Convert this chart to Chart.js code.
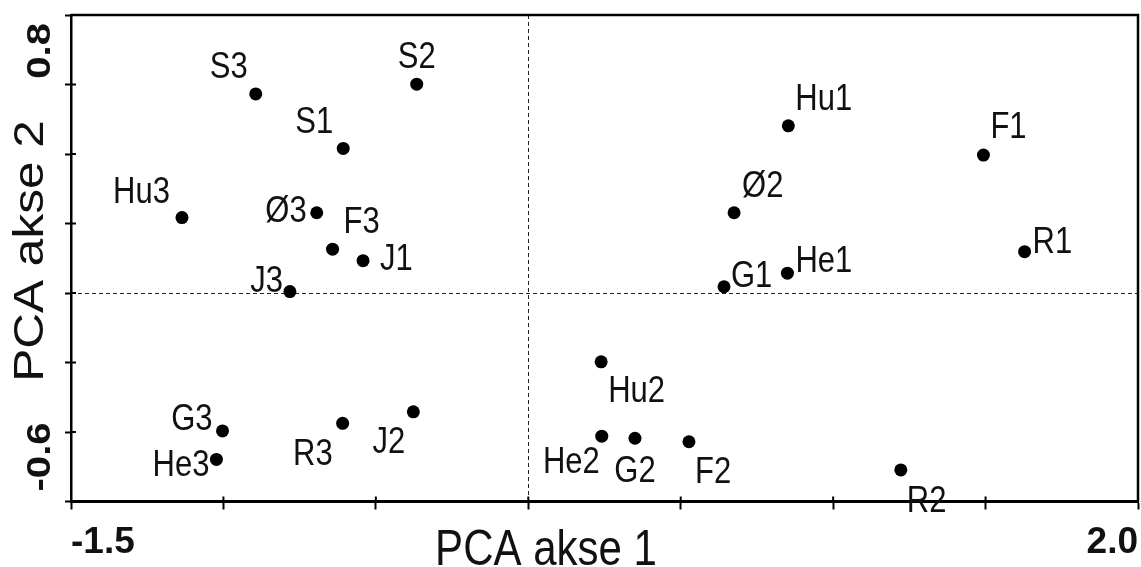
<!DOCTYPE html>
<html>
<head>
<meta charset="utf-8">
<script src="https://cdn.jsdelivr.net/npm/chart.js@4.4.0/dist/chart.umd.min.js"></script>
<style>
  html, body { margin: 0; padding: 0; background: #fff; }
  #wrap { width: 1141px; height: 567px; }
</style>
</head>
<body>
<div id="wrap"><canvas id="pca" width="1141" height="567"></canvas></div>
<script>
// sample scores
const pointNames = ['S1', 'S2', 'S3', 'Hu1', 'Hu2', 'Hu3', 'F1', 'F2', 'F3', 'R1', 'R2', 'R3',
                    'J1', 'J2', 'J3', 'G1', 'G2', 'G3', 'He1', 'He2', 'He3', 'Ø2', 'Ø3'];
const axis1 = [-0.607, -0.366, -0.894, 0.853, 0.239, -1.136, 1.493, 0.527, -0.642, 1.628, 1.222, -0.609,
               -0.542, -0.377, -0.782, 0.642, 0.350, -1.003, 0.850, 0.241, -1.023, 0.675, -0.694];
const axis2 = [0.416, 0.601, 0.573, 0.481, -0.198, 0.217, 0.397, -0.428, 0.126, 0.119, -0.509, -0.375,
               0.093, -0.342, 0.004, 0.018, -0.418, -0.397, 0.057, -0.412, -0.479, 0.231, 0.231];
const xRange = [-1.5, 2.0];
const yRange = [-0.6, 0.8];
const xTitle = 'PCA akse 1';
const yTitle = 'PCA akse 2';

// where each name sits next to its dot: [textAlign, dx, baseline dy]
const labelPlacement = {
  S1: ['right', -10, -15], S2: ['center', 0, -16], S3: ['right', -8, -16],
  Hu1: ['left', 7, -16], Hu2: ['left', 7, 40], Hu3: ['right', -12, -15],
  F1: ['left', 7, -17], F2: ['left', 6, 41], F3: ['left', 11, -16],
  R1: ['left', 8, 1], R2: ['left', 6, 42], R3: ['right', -10, 42],
  J1: ['left', 17, 9], J2: ['right', -8, 41], J3: ['right', -7, 0],
  G1: ['left', 7, 0], G2: ['center', 0, 44], G3: ['right', -10, -1],
  He1: ['left', 8, -1], He2: ['right', -2, 37], He3: ['right', -7, 17],
  'Ø2': ['left', 8, -16], 'Ø3': ['right', -10, 9]
};

const FONT = "'Liberation Sans', Arial, sans-serif";
const STRETCH = 1.18; // the original figure is a bit taller than wide

function drawText(ctx, text, x, y, font, align, rotated) {
  ctx.save();
  ctx.translate(x, y);
  if (rotated) {
    ctx.rotate(-Math.PI / 2);
    ctx.scale(STRETCH, 1);
  } else {
    ctx.scale(1, STRETCH);
  }
  ctx.font = font;
  ctx.textAlign = align;
  ctx.textBaseline = 'alphabetic';
  ctx.fillStyle = '#111';
  ctx.fillText(text, 0, 0);
  ctx.restore();
}

const pcaDecor = {
  id: 'pcaDecor',
  beforeDatasetsDraw(chart) {
    const { ctx, chartArea: a, scales: { x, y } } = chart;
    const x0 = Math.round(x.getPixelForValue(0)) + 0.5;
    const y0 = Math.round(y.getPixelForValue(0)) + 0.5;
    ctx.save();
    ctx.strokeStyle = '#222';
    ctx.lineWidth = 1;
    ctx.setLineDash([4, 3]);
    ctx.beginPath();
    ctx.moveTo(x0, a.top);
    ctx.lineTo(x0, a.bottom);
    ctx.moveTo(a.left, y0);
    ctx.lineTo(a.right, y0);
    ctx.stroke();
    ctx.restore();
  },
  afterDatasetsDraw(chart) {
    const { ctx } = chart;
    const meta = chart.getDatasetMeta(0);
    meta.data.forEach((pt, i) => {
      const [align, dx, dy] = labelPlacement[pointNames[i]];
      drawText(ctx, pointNames[i], pt.x + dx, pt.y + dy, '31px ' + FONT, align, false);
    });
  },
  afterDraw(chart) {
    const { ctx, chartArea: a, scales: { x, y } } = chart;
    ctx.save();
    ctx.strokeStyle = '#000';
    // box top and right
    ctx.lineWidth = 2.5;
    ctx.beginPath();
    ctx.moveTo(a.left, a.top);
    ctx.lineTo(a.right, a.top);
    ctx.lineTo(a.right, a.bottom);
    ctx.stroke();
    // tick marks also poke into the plot
    ctx.lineWidth = 2;
    ctx.beginPath();
    x.ticks.forEach(t => {
      const px = x.getPixelForValue(t.value);
      ctx.moveTo(px, a.bottom);
      ctx.lineTo(px, a.bottom - 5);
    });
    y.ticks.forEach(t => {
      const py = y.getPixelForValue(t.value);
      ctx.moveTo(a.left, py);
      ctx.lineTo(a.left + 5, py);
    });
    ctx.stroke();
    ctx.restore();

    // y end labels, rotated and kept inside the axis
    const tickFont = 'bold 34px ' + FONT;
    drawText(ctx, yRange[0].toFixed(1), 50, y.getPixelForValue(yRange[0]) - 10, tickFont, 'left', true);
    drawText(ctx, yRange[1].toFixed(1), 50, y.getPixelForValue(yRange[1]) + 8, tickFont, 'right', true);

    // axis titles
    drawText(ctx, xTitle, 546, 565, '42px ' + FONT, 'center', false);
    drawText(ctx, yTitle, 43, 251, '42px ' + FONT, 'center', true);
  }
};

new Chart(document.getElementById('pca'), {
  type: 'scatter',
  data: {
    datasets: [{
      data: pointNames.map((n, i) => ({ x: axis1[i], y: axis2[i] })),
      backgroundColor: '#000',
      borderColor: '#000',
      borderWidth: 0,
      pointRadius: 6.5,
      pointHoverRadius: 6.5
    }]
  },
  options: {
    responsive: false,
    animation: false,
    events: [],
    layout: { autoPadding: false, padding: { top: 15, right: 3, left: 0, bottom: 0 } },
    plugins: { legend: { display: false }, tooltip: { enabled: false } },
    scales: {
      x: {
        type: 'linear',
        min: xRange[0],
        max: xRange[1],
        afterFit: s => { s.height = 65.5; s.paddingLeft = 0; s.paddingRight = 0; },
        grid: { drawOnChartArea: false, tickLength: 8, tickWidth: 2, tickColor: '#000' },
        border: { color: '#000', width: 3 },
        ticks: {
          stepSize: 0.5,
          align: 'inner',
          padding: 11,
          autoSkip: false,
          maxRotation: 0,
          color: '#111',
          font: { family: FONT, size: 37, weight: 'bold' },
          callback: (v, i, t) => (i === 0 || i === t.length - 1) ? Number(v).toFixed(1) : ''
        }
      },
      y: {
        type: 'linear',
        min: yRange[0],
        max: yRange[1],
        afterFit: s => { s.width = 71; },
        grid: { drawOnChartArea: false, tickLength: 6, tickWidth: 2, tickColor: '#000' },
        border: { color: '#000', width: 2.5 },
        ticks: { stepSize: 0.2, display: false }
      }
    }
  },
  plugins: [pcaDecor]
});
</script>
</body>
</html>
